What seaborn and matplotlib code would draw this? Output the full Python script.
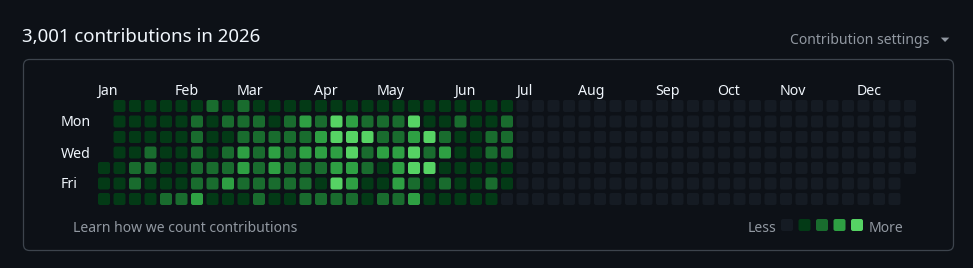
import numpy as np
import pandas as pd
import seaborn as sns
import matplotlib
matplotlib.use("Agg")
import matplotlib.pyplot as plt
from matplotlib.patches import FancyBboxPatch, BoxStyle, Polygon
from matplotlib.markers import MarkerStyle

# ---------------- data ----------------
year = 2026
title_text = "3,001 contributions in 2026"
settings_text = "Contribution settings"
footer_text = "Learn how we count contributions"
month_labels = ["Jan", "Feb", "Mar", "Apr", "May", "Jun",
                "Jul", "Aug", "Sep", "Oct", "Nov", "Dec"]
day_labels = {1: "Mon", 3: "Wed", 5: "Fri"}
last_data_day = "2026-07-03"

# contribution level (0-4) per week column, one list per weekday (Sun..Sat)
# None = day outside the year
sun = [None, 1, 1, 1, 1, 1, 1, 2, 1, 2, 1, 1, 1, 1, 1, 1, 1, 1, 1, 1, 1, 1, 1, 1, 1, 1, 1]
mon = [None, 1, 1, 1, 1, 1, 2, 1, 2, 2, 2, 1, 2, 3, 2, 4, 3, 2, 2, 2, 4, 1, 1, 2, 1, 1, 2]
tue = [None, 1, 1, 1, 1, 1, 2, 1, 1, 2, 2, 2, 2, 2, 3, 4, 4, 4, 2, 2, 3, 4, 2, 1, 1, 2, 2]
wed = [None, 1, 1, 2, 1, 1, 2, 1, 2, 3, 2, 3, 2, 3, 3, 3, 4, 2, 3, 3, 4, 2, 3, 1, 1, 2, 2]
thu = [1, 1, 2, 2, 1, 1, 2, 2, 2, 3, 2, 3, 2, 2, 2, 3, 3, 2, 1, 3, 4, 4, 1, 1, 1, 1, 1]
fri = [1, 1, 2, 1, 1, 1, 2, 2, 3, 2, 2, 2, 2, 2, 1, 4, 3, 1, 1, 3, 2, 1, 2, 1, 1, 2, 1]
sat = [1, 1, 1, 1, 2, 2, 3, 1, 1, 1, 2, 1, 1, 2, 2, 2, 2, 1, 2, 2, 3, 1, 1, 1, 1, 1]
legend_levels = [0, 1, 2, 3, 4]

# ---------------- style ----------------
BG = "#0d1117"
BORDER = "#3d444d"
FG = "#f0f6fc"
MUTED = "#9198a1"
palette = {0: "#151b23", 1: "#033a16", 2: "#196c2e", 3: "#2ea043", 4: "#56d364"}
FONT = ["Noto Sans", "DejaVu Sans"]

sns.set_theme(style="white")
plt.rcParams["font.family"] = FONT

# ---------------- build table ----------------
rows = [sun, mon, tue, wed, thu, fri, sat]
dates = pd.date_range(f"{year}-01-01", f"{year}-12-31", freq="D")
dow = (dates.dayofweek + 1) % 7          # Sunday = 0
offset = int(dow[0])
week = (np.arange(len(dates)) + offset) // 7
levels = []
for d, r, w in zip(dates, dow, week):
    if d <= pd.Timestamp(last_data_day):
        levels.append(rows[r][w])
    else:
        levels.append(0)
df = pd.DataFrame({"date": dates, "dow": dow, "week": week, "level": levels})

# month label columns: column where the first in-year day changes month
first_in_col = df.groupby("week")["date"].min()
month_cols = []
prev = None
for w, d in first_in_col.items():
    if d.month != prev:
        month_cols.append((w, month_labels[d.month - 1]))
        prev = d.month

# ---------------- figure ----------------
W, H = 973, 268
fig = plt.figure(figsize=(W / 100, H / 100), dpi=100, facecolor=BG)

bg = fig.add_axes([0, 0, 1, 1], zorder=0)
bg.set_xlim(0, W)
bg.set_ylim(H, 0)
bg.axis("off")
bg.set_facecolor(BG)

# container box
bg.add_patch(FancyBboxPatch((23.5, 59.5), 930, 191,
                            boxstyle="round,pad=0,rounding_size=6",
                            facecolor=BG, edgecolor=BORDER, linewidth=0.9))

renderer = fig.canvas.get_renderer()


def fit_text(x, y, s, target_w, color, ha="left", va="baseline", size0=12):
    t = bg.text(x, y, s, color=color, ha=ha, va=va, fontsize=size0, family=FONT)
    w = t.get_window_extent(renderer).width
    t.set_fontsize(size0 * target_w / w)
    return t


title = fit_text(22.3, 42.5, title_text, 238.4, FG)
fit_text(929.3, 44.3, settings_text, 138.6, MUTED, ha="right")
bg.add_patch(Polygon([(940.8, 37.6), (949.3, 37.6), (945.05, 42.0)],
                     closed=True, facecolor=MUTED, edgecolor="none"))

# grid geometry (pixels)
pitch = 15.5
cell = 12.0
x0 = 98.0      # left edge of column 0
y0 = 100.0     # top edge of row 0

# day labels: fit size from "Mon"
mon_t = fit_text(60.7, y0 + cell / 2 + pitch * 1 + 5.0, "Mon", 30.0, FG)
lab_size = mon_t.get_fontsize()
for r, lab in day_labels.items():
    if r == 1:
        continue
    bg.text(60.7, y0 + cell / 2 + pitch * r + 5.0, lab, color=FG,
            fontsize=lab_size, ha="left", va="baseline", family=FONT)

for w, lab in month_cols:
    bg.text(x0 + pitch * w - 0.5, 95.0, lab, color=FG, fontsize=lab_size,
            ha="left", va="baseline", family=FONT)

foot = fit_text(72.7, 231.5, footer_text, 224.0, MUTED)
fsize = foot.get_fontsize()
bg.text(776.0, 231.5, "Less", color=MUTED, fontsize=fsize, ha="right",
        va="baseline", family=FONT)
bg.text(868.3, 231.5, "More", color=MUTED, fontsize=fsize, ha="left",
        va="baseline", family=FONT)

# rounded square marker
rpath = BoxStyle.Round(pad=0, rounding_size=0.17)(-0.5, -0.5, 1, 1, 1)
marker = MarkerStyle(rpath)
msize = (cell * 72 / 100) ** 2

# heatmap axes
gap = (pitch - cell) / 2
left_px = x0 - gap
top_px = y0 - gap
ax = fig.add_axes([left_px / W, 1 - (top_px + 7 * pitch) / H,
                   53 * pitch / W, 7 * pitch / H], zorder=2)
ax.patch.set_alpha(0)
sns.scatterplot(data=df, x="week", y="dow", hue="level", palette=palette,
                hue_order=[0, 1, 2, 3, 4], marker=marker, s=msize,
                linewidth=0, edgecolor="none", legend=False, ax=ax)
ax.set_xlim(-0.5, 52.5)
ax.set_ylim(6.5, -0.5)
ax.axis("off")

# legend squares
lx_center0 = 787.0
lpitch = 17.5
ly = 225.0
lax = fig.add_axes([(lx_center0 - lpitch / 2) / W, 1 - (ly + lpitch / 2) / H,
                    5 * lpitch / W, lpitch / H], zorder=2)
lax.patch.set_alpha(0)
ldf = pd.DataFrame({"pos": list(range(len(legend_levels))),
                    "y": [0] * len(legend_levels),
                    "level": legend_levels})
sns.scatterplot(data=ldf, x="pos", y="y", hue="level", palette=palette,
                hue_order=[0, 1, 2, 3, 4], marker=marker, s=msize,
                linewidth=0, edgecolor="none", legend=False, ax=lax)
lax.set_xlim(-0.5, 4.5)
lax.set_ylim(0.5, -0.5)
lax.axis("off")

fig.savefig("out.png", dpi=100, facecolor=BG)
